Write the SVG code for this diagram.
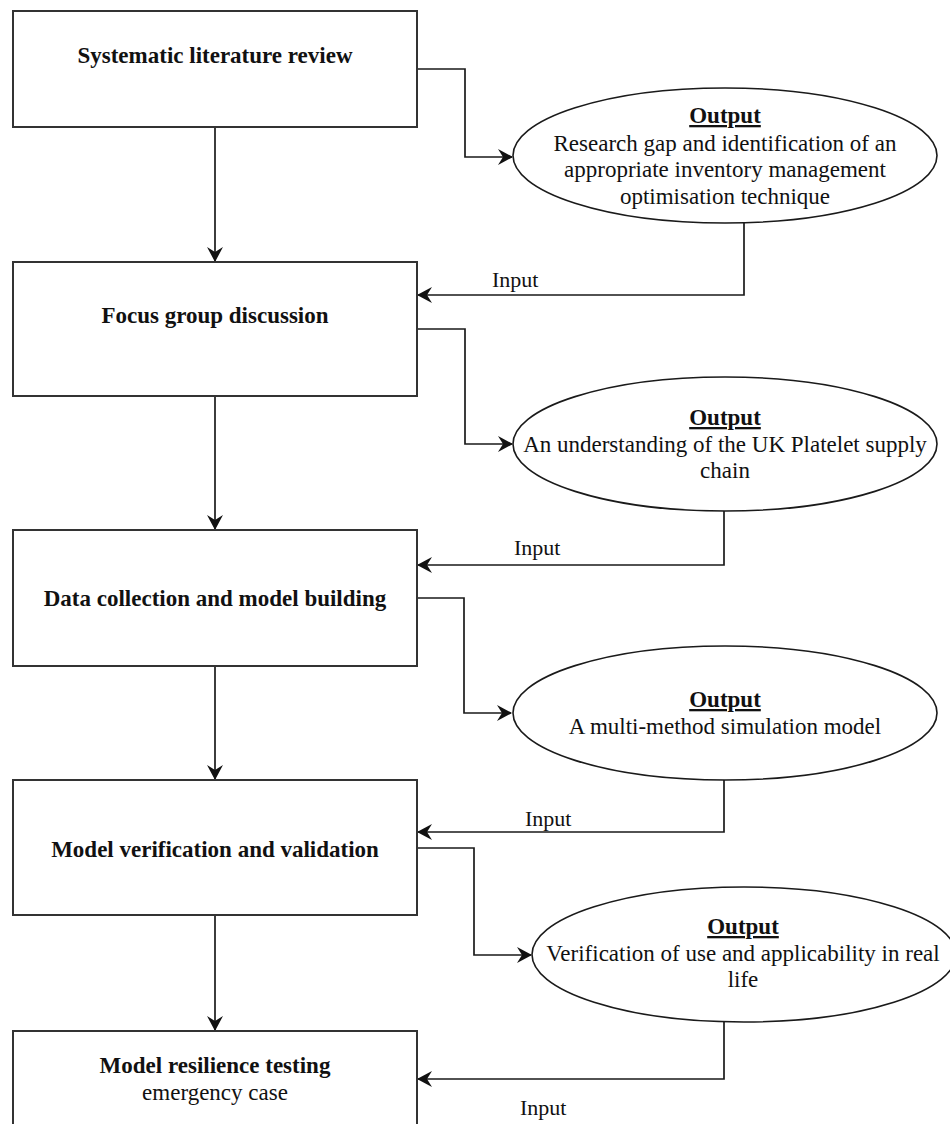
<svg xmlns="http://www.w3.org/2000/svg" width="950" height="1124" viewBox="0 0 950 1124">
<style>
.box{fill:#fff;stroke:#333;stroke-width:2}
.ell{fill:#fff;stroke:#1a1a1a;stroke-width:1.6}
.edge{fill:none;stroke:#1a1a1a;stroke-width:1.7}
.t{font-family:"Liberation Serif","Times New Roman",serif;font-size:23px;fill:#111;text-anchor:middle}
.b{font-weight:bold}
.u{font-weight:bold;text-decoration:underline}
.lbl{font-family:"Liberation Serif","Times New Roman",serif;font-size:22px;fill:#111}
</style>
<defs>
<marker id="arr" viewBox="0 0 15 16" refX="14" refY="8" markerWidth="15" markerHeight="16" markerUnits="userSpaceOnUse" orient="auto">
<path d="M0,0 L15,8 L0,16 L5,8 z" fill="#111"/>
</marker>
</defs>
<rect width="950" height="1124" fill="#fff"/>
<g id="connectors">
<path class="edge" d="M215,127 V261" marker-end="url(#arr)"/>
<path class="edge" d="M215,396 V529" marker-end="url(#arr)"/>
<path class="edge" d="M215,666 V779" marker-end="url(#arr)"/>
<path class="edge" d="M215,915 V1030" marker-end="url(#arr)"/>
<path class="edge" d="M417,69 H465 V157 H512" marker-end="url(#arr)"/>
<path class="edge" d="M417,329 H465 V444 H512" marker-end="url(#arr)"/>
<path class="edge" d="M417,598 H464 V713 H511" marker-end="url(#arr)"/>
<path class="edge" d="M417,848 H474 V955 H531" marker-end="url(#arr)"/>
<path class="edge" d="M744,223 V295 H418" marker-end="url(#arr)"/>
<path class="edge" d="M724,511 V565 H418" marker-end="url(#arr)"/>
<path class="edge" d="M724,780 V832 H418" marker-end="url(#arr)"/>
<path class="edge" d="M724,1022 V1079 H418" marker-end="url(#arr)"/>
<text class="lbl" x="492" y="287">Input</text>
<text class="lbl" x="514" y="555">Input</text>
<text class="lbl" x="525" y="826">Input</text>
<text class="lbl" x="520" y="1115">Input</text>
</g>
<g id="n1">
<rect class="box" x="13" y="11" width="404" height="116"/>
<text class="t b" x="215" y="63">Systematic literature review</text>
</g>
<g id="n2">
<rect class="box" x="13" y="262" width="404" height="134"/>
<text class="t b" x="215" y="323">Focus group discussion</text>
</g>
<g id="n3">
<rect class="box" x="13" y="530" width="404" height="136"/>
<text class="t b" x="215" y="606">Data collection and model building</text>
</g>
<g id="n4">
<rect class="box" x="13" y="780" width="404" height="135"/>
<text class="t b" x="215" y="857">Model verification and validation</text>
</g>
<g id="n5">
<rect class="box" x="13" y="1031" width="404" height="120"/>
<text class="t b" x="215" y="1073">Model resilience testing</text>
<text class="t" x="215" y="1100">emergency case</text>
</g>
<g id="o1">
<ellipse class="ell" cx="725" cy="155.5" rx="212" ry="67.5"/>
<text class="t u" x="725" y="123">Output</text>
<text class="t" x="725" y="151">Research gap and identification of an</text>
<text class="t" x="725" y="177">appropriate inventory management</text>
<text class="t" x="725" y="204">optimisation technique</text>
</g>
<g id="o2">
<ellipse class="ell" cx="725" cy="444" rx="212" ry="67"/>
<text class="t u" x="725" y="425">Output</text>
<text class="t" x="725" y="452">An understanding of the UK Platelet supply</text>
<text class="t" x="725" y="478">chain</text>
</g>
<g id="o3">
<ellipse class="ell" cx="725" cy="713" rx="212" ry="67"/>
<text class="t u" x="725" y="707">Output</text>
<text class="t" x="725" y="734">A multi-method simulation model</text>
</g>
<g id="o4">
<ellipse class="ell" cx="744" cy="954.5" rx="212" ry="67.5"/>
<text class="t u" x="743" y="934">Output</text>
<text class="t" x="743" y="961">Verification of use and applicability in real</text>
<text class="t" x="743" y="987">life</text>
</g>
</svg>
